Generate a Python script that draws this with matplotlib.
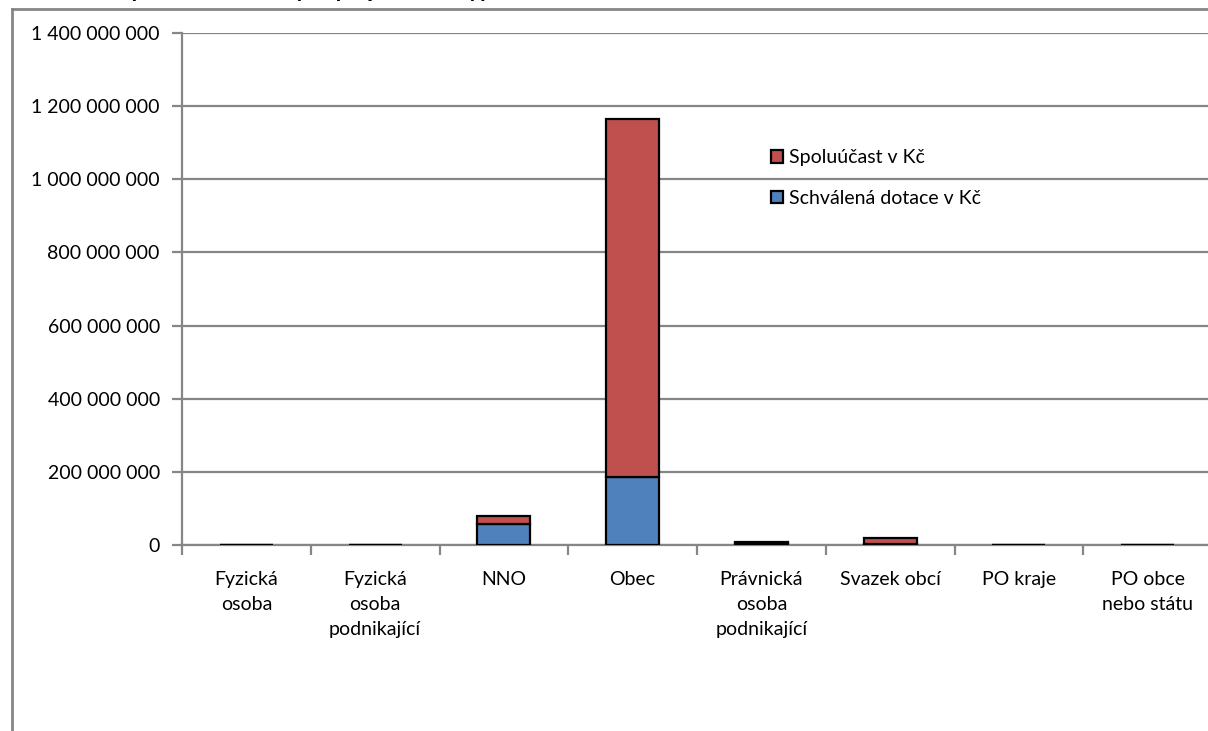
import numpy as np
import matplotlib.pyplot as plt
from matplotlib.lines import Line2D
from matplotlib.ticker import FuncFormatter, FixedLocator

plt.rcParams['font.family'] = ['Lato', 'DejaVu Sans']

categories = ['Fyzická\nosoba', 'Fyzická\nosoba\npodnikající', 'NNO', 'Obec',
              'Právnická\nosoba\npodnikající', 'Svazek obcí', 'PO kraje',
              'PO obce\nnebo státu']
dotace = [0.6e6, 0.6e6, 57e6, 186e6, 4.5e6, 3e6, 0.6e6, 0.6e6]
spoluucast = [0.6e6, 0.6e6, 22e6, 978e6, 4e6, 16e6, 0.6e6, 0.6e6]
yticks = [0, 200e6, 400e6, 600e6, 800e6, 1000e6, 1200e6, 1400e6]

title = 'Graf č. 9: Rozpočet realizovaných projektů dle typu žadatele v Kč v období 2007 - 2013'

blue = '#4F81BD'
red = '#C0504D'
grey = '#868686'
fs = 14

fig = plt.figure(figsize=(12.08, 7.31), dpi=100)
ax = fig.add_axes([182 / 1208, 1 - 545 / 731, 1030 / 1208, 512 / 731])

x = np.arange(len(categories))
ax.bar(x, dotace, width=0.41, color=blue, edgecolor='black', linewidth=1.6,
       label='Schválená dotace v Kč', zorder=3)
ax.bar(x, spoluucast, width=0.41, bottom=dotace, color=red, edgecolor='black',
       linewidth=1.6, label='Spoluúčast v Kč', zorder=3)

ax.set_xlim(-0.5, len(categories) - 0.5)
ax.set_ylim(0, 1.4e9)
ax.set_yticks(yticks)
ax.yaxis.set_major_formatter(FuncFormatter(lambda v, p: f'{int(v):,}'.replace(',', ' ')))
ax.grid(axis='y', color=grey, linewidth=1.6, zorder=0)

ax.set_xticks(x)
ax.set_xticklabels(categories, fontsize=fs, linespacing=1.55)
ax.xaxis.set_minor_locator(FixedLocator(np.arange(-0.5, len(categories), 1)))
ax.tick_params(axis='x', which='major', length=0, pad=19)
ax.tick_params(axis='x', which='minor', length=7, width=1.6, color=grey)
ax.tick_params(axis='y', length=7, width=1.6, color=grey, labelsize=fs, pad=9)

for side in ['top', 'right']:
    ax.spines[side].set_visible(False)
for side in ['left', 'bottom']:
    ax.spines[side].set_color(grey)
    ax.spines[side].set_linewidth(1.6)

handles, labels = ax.get_legend_handles_labels()
leg = ax.legend(handles[::-1], labels[::-1], loc='upper left',
                bbox_to_anchor=(0.555, 0.807), frameon=False, fontsize=fs,
                handlelength=0.6, handleheight=0.6, handletextpad=0.3,
                labelspacing=1.2)

# outer chart frame (top and left edges visible)
fig.add_artist(Line2D([12 / 1208, 12 / 1208], [0, 1 - 9 / 731],
                      transform=fig.transFigure, color=grey, linewidth=2))
fig.add_artist(Line2D([12 / 1208, 1], [1 - 9 / 731, 1 - 9 / 731],
                      transform=fig.transFigure, color=grey, linewidth=2))

# title, mostly cut off above the image as in the source
fig.text(0.0, 1 + 3 / 731, title, fontsize=17, fontweight='bold',
         fontstyle='italic', va='baseline', ha='left')

fig.savefig('out.png', dpi=100)
